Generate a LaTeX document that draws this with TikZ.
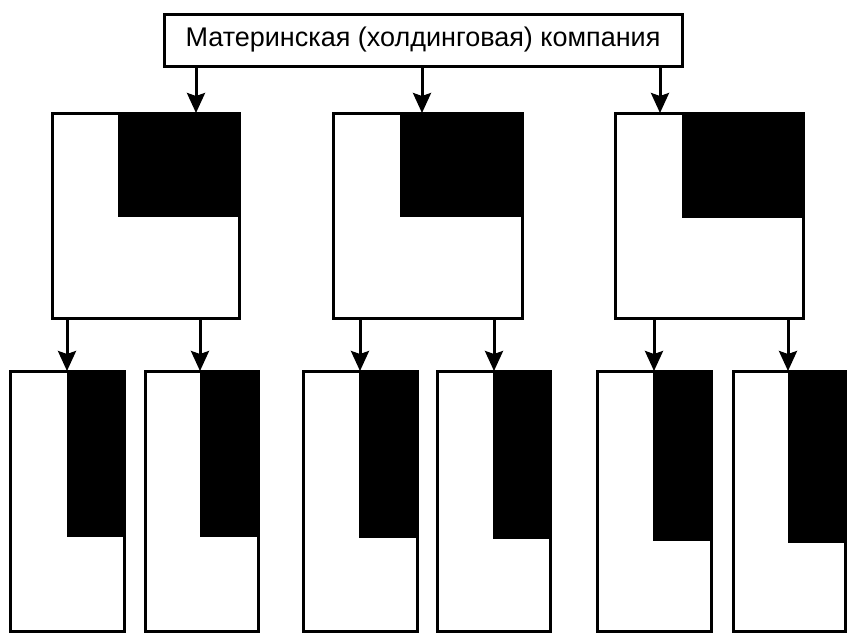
\documentclass[tikz,border=0pt]{standalone}
\usepackage{fontspec}
\newfontfamily\labfont{Liberation Sans}
\usetikzlibrary{arrows.meta}
\begin{document}
\begin{tikzpicture}[x=1pt,y=-1pt,
  box/.style={draw=black, fill=white, line width=3pt, rectangle, inner sep=0pt, outer sep=0pt},
  mid/.style={box, minimum height=205pt},
  low/.style={box, minimum height=260pt},
  arr/.style={line width=3pt, -{Stealth[length=20pt,width=18pt,inset=3pt]}},
  dark/.style={fill=black}]
\useasboundingbox (0,0) rectangle (847,635);
% top
\node[box, minimum width=518pt, minimum height=52pt, font=\labfont\fontsize{27}{30}\selectfont] (top) at (423,40) {Материнская (холдинговая) компания};
% middle
\node[mid, minimum width=187pt] (m1) at (145.5,215.5) {};
\node[mid, minimum width=189pt] (m2) at (427.5,215.5) {};
\node[mid, minimum width=188pt] (m3) at (709,215.5) {};
\fill[dark] (m1.north east) rectangle (118,217);
\fill[dark] (m2.north east) rectangle (400,217);
\fill[dark] (m3.north east) rectangle (682,218);
% bottom
\node[low, minimum width=114pt] (b1) at (67,501) {};
\node[low, minimum width=113pt] (b2) at (201.5,501) {};
\node[low, minimum width=114pt] (b3) at (360,501) {};
\node[low, minimum width=113pt] (b4) at (493.5,501) {};
\node[low, minimum width=114pt] (b5) at (654,501) {};
\node[low, minimum width=112pt] (b6) at (789,501) {};
\fill[dark] (b1.north east) rectangle (67,537);
\fill[dark] (b2.north east) rectangle (200,537);
\fill[dark] (b3.north east) rectangle (359,538);
\fill[dark] (b4.north east) rectangle (493,539);
\fill[dark] (b5.north east) rectangle (653,541);
\fill[dark] (b6.north east) rectangle (788,543);
% arrows top -> middle
\draw[arr] (196,0 |- top.south) -- (196,0 |- m1.north);
\draw[arr] (422,0 |- top.south) -- (422,0 |- m2.north);
\draw[arr] (660,0 |- top.south) -- (660,0 |- m3.north);
% arrows middle -> bottom
\draw[arr] (67,0 |- m1.south) -- (67,0 |- b1.north);
\draw[arr] (200,0 |- m1.south) -- (200,0 |- b2.north);
\draw[arr] (360,0 |- m2.south) -- (360,0 |- b3.north);
\draw[arr] (494,0 |- m2.south) -- (494,0 |- b4.north);
\draw[arr] (654,0 |- m3.south) -- (654,0 |- b5.north);
\draw[arr] (788,0 |- m3.south) -- (788,0 |- b6.north);
\end{tikzpicture}
\end{document}
